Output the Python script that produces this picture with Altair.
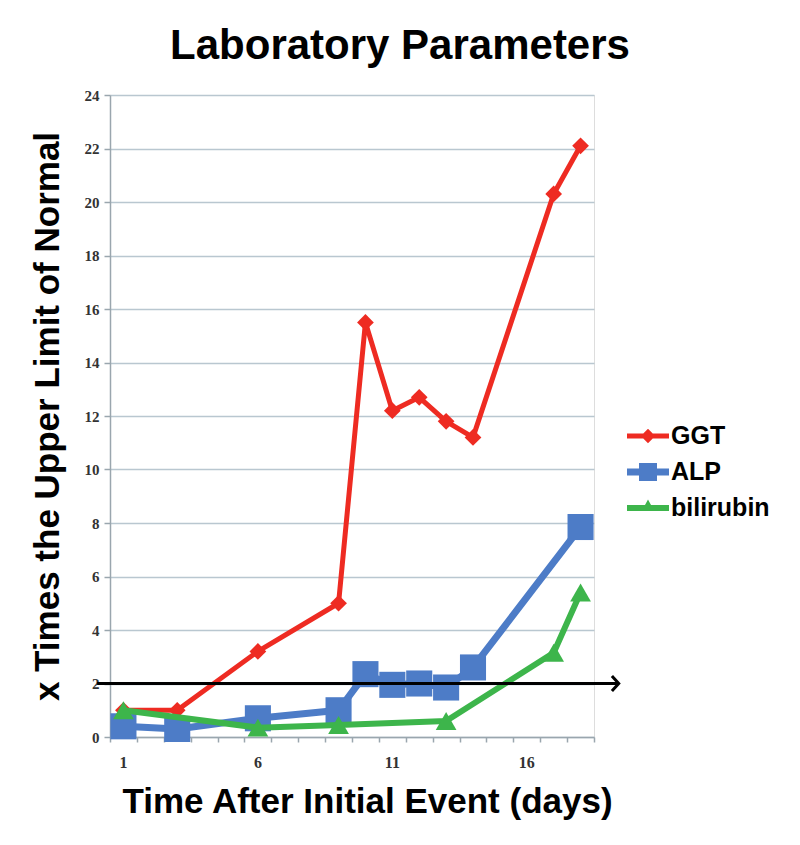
import altair as alt
import pandas as pd

# ---- data ----
series_names = ["GGT", "ALP", "bilirubin"]
series_colors = ["#ee2b22", "#4d7cc7", "#3db54b"]

ggt_days = [1, 3, 6, 9, 10, 11, 12, 13, 14, 17, 18]
ggt_vals = [1.0, 1.0, 3.2, 5.0, 15.5, 12.2, 12.7, 11.8, 11.2, 20.3, 22.1]

alp_days = [1, 3, 6, 9, 10, 11, 12, 13, 14, 18]
alp_vals = [0.4, 0.3, 0.7, 1.0, 2.35, 1.95, 2.0, 1.85, 2.6, 7.85]

bili_days = [1, 6, 9, 13, 17, 18]
bili_vals = [1.0, 0.35, 0.45, 0.6, 3.15, 5.4]

uln_level = [2]
x_label_days = [1, 6, 11, 16]
y_ticks = list(range(0, 25, 2))

# ---- styles ----
marker_shapes = ["diamond", "square", "triangle-up"]
marker_sizes = [280, 680, 430]
line_widths = [5, 7, 6]
# legend symbols: a line segment with the marker on top (unit = half of sqrt(size))
legend_paths = [
    "M-1.4,-0.17H1.4V0.17H-1.4Z M0,-0.48L0.48,0L0,0.48L-0.48,0Z",
    "M-1.4,-0.24H1.4V0.24H-1.4Z M-0.6,-0.6H0.6V0.6H-0.6Z",
    "M-1.4,-0.2H1.4V0.2H-1.4Z M0,-0.56L0.42,0.2L-0.42,0.2Z",
]

frames = []
for name, days, vals in zip(series_names,
                            [ggt_days, alp_days, bili_days],
                            [ggt_vals, alp_vals, bili_vals]):
    frames.append(pd.DataFrame({"day": days, "value": vals, "series": name}))
df = pd.concat(frames, ignore_index=True)

tick_positions = [d + 0.5 for d in range(0, 19)]
label_expr = ("indexof([" + ",".join(str(d - 0.5) for d in x_label_days) +
              "], datum.value) >= 0 ? format(datum.value + 0.5, 'd') : ''")

x_enc = alt.X(
    "day:Q",
    scale=alt.Scale(domain=[0.5, 18.5], nice=False, zero=False),
    axis=alt.Axis(
        values=tick_positions, tickCount=40, labelExpr=label_expr, labelOffset=13,
        labelFlush=False, labelOverlap=False, grid=False,
        tickSize=5, tickColor="#9aa6ae", tickWidth=1.5,
        domainColor="#9aa6ae", domainWidth=1.5,
        labelFont="Liberation Serif", labelFontSize=16, labelFontWeight="bold",
        labelColor="#333333", labelPadding=12,
        titleFont="Liberation Sans", titleFontSize=35, titleFontWeight="bold",
        titleColor="black", titlePadding=14, titleX=257,
    ),
    title="Time After Initial Event (days)",
)
y_enc = alt.Y(
    "value:Q",
    scale=alt.Scale(domain=[0, 24], nice=False),
    axis=alt.Axis(
        values=y_ticks, tickCount=40, format="d", grid=True,
        gridColor="#b9c7d0", gridWidth=1.5,
        tickSize=6, tickColor="#9aa6ae", tickWidth=1.5,
        domainColor="#9aa6ae", domainWidth=1.5,
        labelFont="Liberation Serif", labelFontSize=15, labelFontWeight="bold",
        labelColor="#333333", labelPadding=5,
        titleFont="Liberation Sans", titleFontSize=35, titleFontWeight="bold",
        titleColor="black", titlePadding=19,
    ),
    title="x Times the Upper Limit of Normal",
)

layers = []
for i, name in enumerate(series_names):
    base = alt.Chart(df).transform_filter(alt.datum.series == name)
    layers.append(
        base.mark_line(color=series_colors[i], strokeWidth=line_widths[i],
                       strokeJoin="round").encode(x=x_enc, y=y_enc, order="day:Q")
    )
    layers.append(
        base.mark_point(shape=marker_shapes[i], size=marker_sizes[i], filled=True,
                        opacity=1, color=series_colors[i]).encode(x=x_enc, y=y_enc)
    )

# upper-limit reference arrow (at y = 2)
arrow_df = pd.DataFrame({"x0": [0.02], "x1": [19.42], "y": uln_level})
layers.append(
    alt.Chart(arrow_df).mark_rule(color="black", strokeWidth=3, clip=False).encode(
        x="x0:Q", x2="x1:Q", y="y:Q")
)
layers.append(
    alt.Chart(arrow_df).mark_point(shape="M-0.9,-1L0,0L-0.9,1", size=230,
                                   color="black", strokeWidth=3, filled=False,
                                   opacity=1, clip=False).encode(x="x1:Q", y="y:Q")
)

legend = alt.Legend(
    title=None, orient="none", legendX=523, legendY=326,
    labelFont="Liberation Sans", labelFontSize=25, labelFontWeight="bold",
    labelColor="black", symbolSize=900, symbolStrokeWidth=0,
    symbolOpacity=1, labelOffset=8, rowPadding=8,
)
legend_layer = alt.Chart(df).mark_point(filled=True, opacity=1, size=900).encode(
    x=x_enc, y=y_enc,
    color=alt.Color("series:N", scale=alt.Scale(domain=series_names, range=series_colors),
                    legend=legend),
    shape=alt.Shape("series:N", scale=alt.Scale(domain=series_names, range=legend_paths),
                    legend=legend),
).transform_filter("false")
layers.append(legend_layer)

chart = alt.layer(*layers).properties(
    width=484, height=642,
    autosize=alt.AutoSizeParams(type="none"),
    padding={"left": 102, "top": 87, "right": 198, "bottom": 100},
    title=alt.TitleParams(
        "Laboratory Parameters", font="Liberation Sans", fontSize=42,
        fontWeight="bold", color="black", anchor="middle", dx=48, dy=43,
        baseline="alphabetic", offset=30,
    ),
).configure_view(stroke=None).configure(background="white")

chart.save("out.html", embed_options={"renderer": "svg", "actions": False})
